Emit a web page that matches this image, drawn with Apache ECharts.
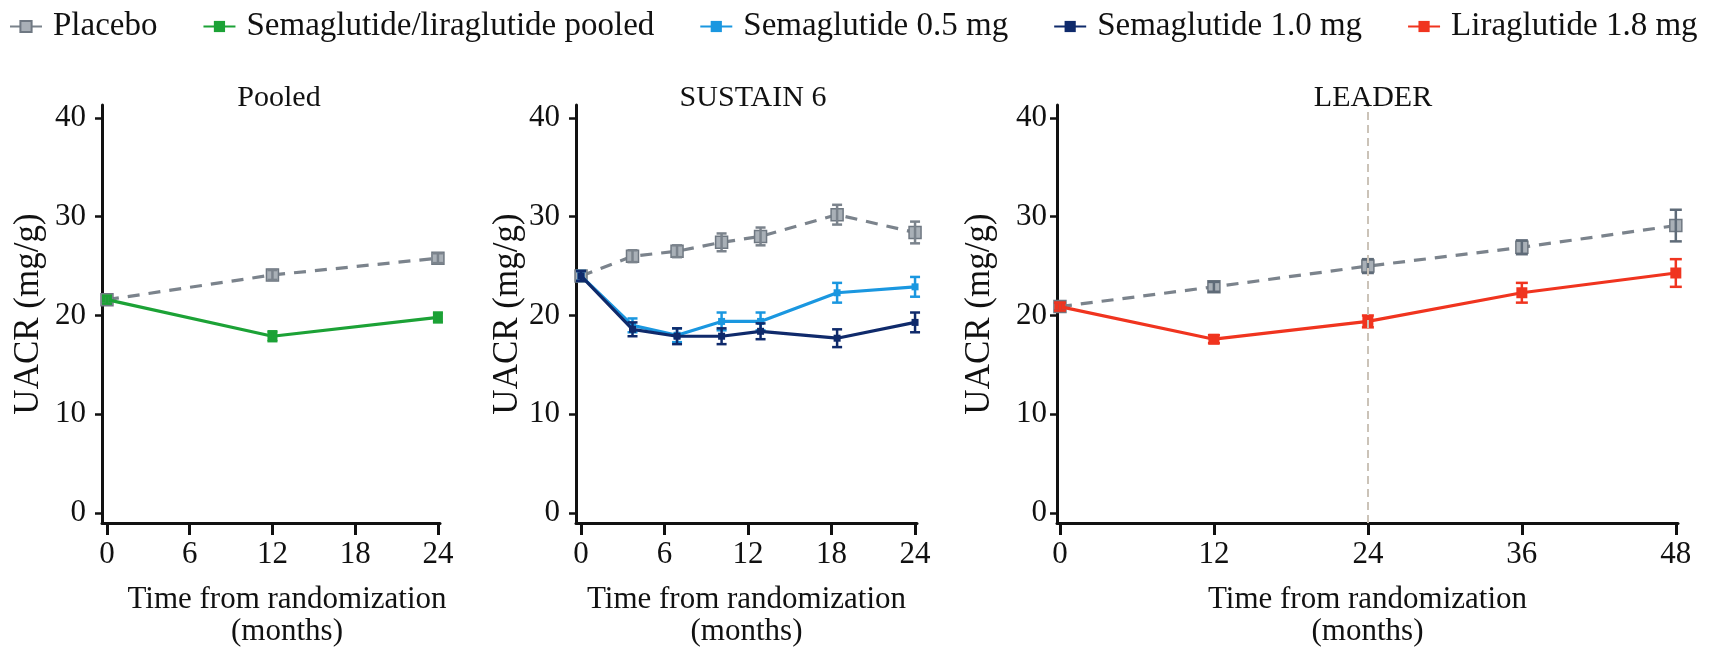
<!DOCTYPE html>
<html>
<head>
<meta charset="utf-8">
<script src="https://cdn.jsdelivr.net/npm/echarts@6/dist/echarts.min.js"></script>
<style>
  html, body { margin: 0; padding: 0; background: #fff; }
  #chart { width: 1712px; height: 647px; }
</style>
</head>
<body>
<div id="chart"></div>
<script>
// ---- data ----
const seriesNames = ['Placebo', 'Semaglutide/liraglutide pooled', 'Semaglutide 0.5 mg', 'Semaglutide 1.0 mg', 'Liraglutide 1.8 mg']
const panelTitles = ['Pooled', 'SUSTAIN 6', 'LEADER']
const yTicks = [0, 10, 20, 30, 40]
const xTicks24 = [0, 6, 12, 18, 24]
const xTicks48 = [0, 12, 24, 36, 48]

// Pooled
const pooledMonths = [0, 12, 24]
const pooledPlacebo = [21.6, 24.1, 25.8]
const pooledPlaceboErr = [0.4, 0.5, 0.5]
const pooledActive = [21.6, 17.9, 19.8]
const pooledActiveErr = [0.4, 0.5, 0.5]

// SUSTAIN 6
const sustainMonths = [0, 3.7, 6.9, 10.1, 12.9, 18.4, 24]
const sustainPlacebo = [24.0, 26.0, 26.5, 27.4, 28.0, 30.2, 28.4]
const sustainPlaceboErr = [0.5, 0.6, 0.6, 0.9, 0.9, 1.0, 1.1]
const sema05 = [24.0, 19.0, 18.0, 19.4, 19.4, 22.3, 22.9]
const sema05Err = [0.5, 0.7, 0.7, 0.9, 0.9, 1.0, 1.0]
const sema10 = [24.0, 18.6, 17.9, 17.9, 18.4, 17.7, 19.3]
const sema10Err = [0.5, 0.7, 0.8, 0.8, 0.8, 0.9, 1.0]

// LEADER
const leaderMonths = [0, 12, 24, 36, 48]
const leaderPlacebo = [20.9, 22.9, 25.0, 26.9, 29.1]
const leaderPlaceboErr = [0.4, 0.5, 0.7, 0.7, 1.6]
const lira18 = [20.9, 17.6, 19.4, 22.3, 24.3]
const lira18Err = [0.4, 0.4, 0.6, 1.0, 1.4]

const FONT = 'Liberation Serif'
const INK = '#111'
const colors = {
    placebo: '#7b838c',
    pooled: '#1ca236',
    sema05: '#1a97e0',
    sema10: '#0f2a6b',
    lira: '#f0341f'
}

function pairs(xs, ys) {
    return xs.map((x, i) => [x, ys[i]])
}

function lineSeries(name, xs, ys, color, idx, opts) {
    opts = opts || {}
    return Object.assign({
        name: name,
        type: 'line',
        xAxisIndex: idx,
        yAxisIndex: idx,
        data: pairs(xs, ys),
        symbol: 'rect',
        symbolSize: 9,
        lineStyle: { color: color, width: 3.2 },
        itemStyle: { color: color },
        z: 3
    }, opts)
}

function errSeries(name, xs, ys, es, color, idx, cap) {
    return {
        name: name + ' err',
        type: 'custom',
        xAxisIndex: idx,
        yAxisIndex: idx,
        silent: true,
        z: 4,
        data: xs.map((x, i) => [x, ys[i] - es[i], ys[i] + es[i]]),
        encode: { x: 0, y: [1, 2] },
        renderItem: function (params, api) {
            const lo = api.coord([api.value(0), api.value(1)])
            const hi = api.coord([api.value(0), api.value(2)])
            const st = { stroke: color, lineWidth: 2.5 }
            return {
                type: 'group',
                children: [
                    { type: 'line', shape: { x1: lo[0], y1: lo[1], x2: hi[0], y2: hi[1] }, style: st },
                    { type: 'line', shape: { x1: lo[0] - cap, y1: lo[1], x2: lo[0] + cap, y2: lo[1] }, style: st },
                    { type: 'line', shape: { x1: hi[0] - cap, y1: hi[1], x2: hi[0] + cap, y2: hi[1] }, style: st }
                ]
            }
        }
    }
}

const placeboOpts = {
    lineStyle: { color: colors.placebo, width: 3.2, type: [12, 9] },
    itemStyle: { color: '#a9b0b7', borderColor: '#6f7882', borderWidth: 1.5 },
    symbolSize: 12,
    z: 2
}

// fixed plot areas (no automatic shrinking for labels)
const grids = [
    { left: 102, top: 105, width: 338, height: 418, outerBoundsMode: 'none' },
    { left: 576, top: 105, width: 341, height: 418, outerBoundsMode: 'none' },
    { left: 1057, top: 105, width: 621, height: 418, outerBoundsMode: 'none' }
]

const xRanges = [[-0.36, 24.15, xTicks24], [-0.36, 24.14, xTicks24], [-0.23, 48.17, xTicks48]]
// y axis title distance per panel
const yNameGaps = [56, 44, 60]
const yLabelMargins = [16, 16, 10]

const xAxes = xRanges.map((r, i) => ({
    type: 'value',
    gridIndex: i,
    min: r[0],
    max: r[1],
    splitLine: { show: false },
    axisLine: { onZero: false, lineStyle: { color: INK, width: 3 } },
    axisTick: { customValues: r[2], length: 12, lineStyle: { color: INK, width: 3 } },
    axisLabel: { customValues: r[2], fontSize: 31, fontFamily: FONT, color: INK, margin: 16 },
    name: 'Time from randomization\n(months)',
    nameLocation: 'middle',
    nameGap: 61,
    nameTextStyle: {
        fontSize: 31, fontFamily: FONT, color: INK, lineHeight: 32,
        padding: i === 0 ? [0, 0, 0, 32] : 0
    }
}))

const yAxes = [0, 1, 2].map(i => ({
    type: 'value',
    gridIndex: i,
    min: -1,
    max: 41.3,
    splitLine: { show: false },
    axisLine: { onZero: false, lineStyle: { color: INK, width: 3 } },
    axisTick: { customValues: yTicks, length: 7, lineStyle: { color: INK, width: 2.5 } },
    axisLabel: { customValues: yTicks, fontSize: 31, fontFamily: FONT, color: INK, margin: yLabelMargins[i] },
    name: 'UACR (mg/g)',
    nameLocation: 'middle',
    nameGap: yNameGaps[i],
    nameTextStyle: { fontSize: 35, fontFamily: FONT, color: INK }
}))

const titleX = [274, 748, 1368]

const series = [
    // Pooled
    lineSeries('Placebo', pooledMonths, pooledPlacebo, colors.placebo, 0, placeboOpts),
    errSeries('Placebo', pooledMonths, pooledPlacebo, pooledPlaceboErr, colors.placebo, 0, 5),
    lineSeries('Semaglutide/liraglutide pooled', pooledMonths, pooledActive, colors.pooled, 0, { symbolSize: 10 }),
    errSeries('Pooled', pooledMonths, pooledActive, pooledActiveErr, colors.pooled, 0, 5),
    // SUSTAIN 6
    lineSeries('Placebo', sustainMonths, sustainPlacebo, colors.placebo, 1, placeboOpts),
    errSeries('Placebo', sustainMonths, sustainPlacebo, sustainPlaceboErr, colors.placebo, 1, 5),
    lineSeries('Semaglutide 0.5 mg', sustainMonths, sema05, colors.sema05, 1, { symbolSize: 7 }),
    errSeries('Sema05', sustainMonths, sema05, sema05Err, colors.sema05, 1, 5),
    lineSeries('Semaglutide 1.0 mg', sustainMonths, sema10, colors.sema10, 1, { symbolSize: 7, z: 5 }),
    errSeries('Sema10', sustainMonths, sema10, sema10Err, colors.sema10, 1, 5),
    // LEADER
    lineSeries('Placebo', leaderMonths, leaderPlacebo, colors.placebo, 2, Object.assign({}, placeboOpts, {
        markLine: {
            silent: true,
            symbol: 'none',
            label: { show: false },
            lineStyle: { color: '#cbc3b8', type: [8, 5], width: 2 },
            data: [{ xAxis: 24 }]
        }
    })),
    errSeries('Placebo', leaderMonths, leaderPlacebo, leaderPlaceboErr, '#5f6b78', 2, 6),
    lineSeries('Liraglutide 1.8 mg', leaderMonths, lira18, colors.lira, 2, { symbolSize: 11 }),
    errSeries('Lira', leaderMonths, lira18, lira18Err, colors.lira, 2, 6)
]

const option = {
    animation: false,
    backgroundColor: '#fff',
    textStyle: { fontFamily: FONT, color: INK },
    title: panelTitles.map((t, i) => ({
        text: t,
        left: titleX[i],
        top: 78,
        textAlign: 'center',
        textStyle: { fontSize: 30, fontWeight: 'normal', fontFamily: FONT, color: INK }
    })),
    legend: {
        data: seriesNames,
        left: 4,
        top: 5,
        itemGap: 45,
        itemWidth: 32,
        itemHeight: 14,
        textStyle: { fontSize: 33, fontFamily: FONT, color: INK, padding: [0, 0, 0, 6] }
    },
    grid: grids,
    xAxis: xAxes,
    yAxis: yAxes,
    series: series
}

const chart = echarts.init(document.getElementById('chart'))
chart.setOption(option)
window.onresize = function () {
    chart.resize()
}
</script>
</body>
</html>
